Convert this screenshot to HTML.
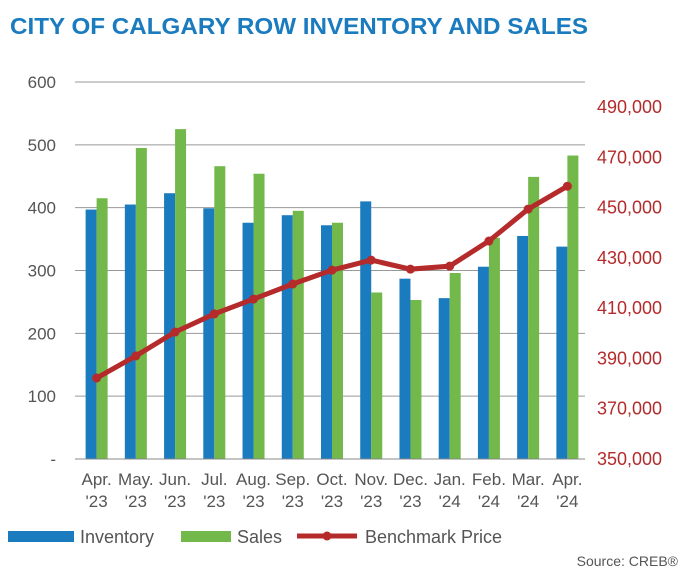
<!DOCTYPE html>
<html><head><meta charset="utf-8"><style>
body{margin:0;background:#fff;font-family:"Liberation Sans",Arial,sans-serif}
#wrap{position:relative;width:688px;height:580px;overflow:hidden}
</style></head><body>
<div id="wrap">
<svg id="chart" width="688" height="580" xmlns="http://www.w3.org/2000/svg">
<text x="10" y="34" font-size="23.5" font-weight="bold" fill="#1a7bbf" textLength="578" lengthAdjust="spacingAndGlyphs">CITY OF CALGARY ROW INVENTORY AND SALES</text>
<g id="grid"></g><g id="bars"></g><g id="line"></g><g id="axes"></g>
<g>
<rect x="8" y="531" width="66" height="11" fill="#1a7bbf"/>
<text x="80" y="543" font-size="18" fill="#555">Inventory</text>
<rect x="181" y="531" width="50" height="11" fill="#72b84a"/>
<text x="237" y="543" font-size="18" fill="#555">Sales</text>
<line x1="297" y1="536" x2="357" y2="536" stroke="#b52b2b" stroke-width="5"/>
<circle cx="327" cy="536" r="4.5" fill="#b52b2b"/>
<text x="365" y="543" font-size="18" fill="#555">Benchmark Price</text>
</g>
<text x="678" y="566" font-size="14" fill="#555" text-anchor="end">Source: CREB®</text>
</svg></div>
<script>
const categories=[["Apr.","'23"],["May.","'23"],["Jun.","'23"],["Jul.","'23"],["Aug.","'23"],["Sep.","'23"],["Oct.","'23"],["Nov.","'23"],["Dec.","'23"],["Jan.","'24"],["Feb.","'24"],["Mar.","'24"],["Apr.","'24"]];
const inventory=[397,405,423,399,376,388,372,410,287,256,306,355,338];
const sales=[415,495,525,466,454,395,376,265,253,296,352,449,483];
const price=[382200,391000,400500,407700,413600,419600,425100,429100,425500,426700,436700,449400,458500];
const leftTicks=[0,100,200,300,400,500,600];
const leftTickLabels=["-","100","200","300","400","500","600"];
const rightTicks=[350000,370000,390000,410000,430000,450000,470000,490000];
const NS="http://www.w3.org/2000/svg";
const x0=75,x1=585,yTop=82,yBot=459;
const yL=v=>yBot-(v/600)*(yBot-yTop);
const yR=v=>yBot-(v-350000)/140000*(yBot-107);
const bw=(x1-x0)/categories.length;
const cx=i=>x0+bw*(i+0.5)+2;
function mk(tag,attrs,parent){const e=document.createElementNS(NS,tag);for(const k in attrs)e.setAttribute(k,attrs[k]);document.getElementById(parent).appendChild(e);return e;}
leftTicks.forEach((t,i)=>{
 if(t>0){const g=mk('line',{x1:x0,x2:x1,y1:yL(t),y2:yL(t),stroke:'#999','stroke-width':1},'grid');
 
 }
 const l=mk('text',{x:56,y:yL(t)+6,'font-size':17,fill:'#555','text-anchor':'end'},'axes');l.textContent=leftTickLabels[i];
 
 
});
const ax=mk('line',{x1:x0,x2:x1,y1:yBot,y2:yBot,stroke:'#888','stroke-width':1},'axes');


rightTicks.forEach(t=>{
 const l=mk('text',{x:597,y:yR(t)+6,'font-size':18,fill:'#b52b2b'},'axes');l.textContent=t.toLocaleString('en-US');
 
 
});
categories.forEach((c,i)=>{
 const b=mk('rect',{x:cx(i)-11,y:yL(inventory[i]),width:11,height:yBot-yL(inventory[i]),fill:'#1a7bbf'},'bars');
 
 
 const s=mk('rect',{x:cx(i),y:yL(sales[i]),width:11,height:yBot-yL(sales[i]),fill:'#72b84a'},'bars');
 
 
 const t=mk('text',{x:cx(i),'font-size':17,fill:'#555','text-anchor':'middle'},'axes');
 
 
 c.forEach((p,j)=>{const ts=document.createElementNS(NS,'tspan');ts.setAttribute('x',cx(i));ts.setAttribute('y',485+j*22);ts.textContent=p;t.appendChild(ts);});
});
const pl=mk('polyline',{points:price.map((p,i)=>cx(i)+','+yR(p)).join(' '),fill:'none',stroke:'#b52b2b','stroke-width':5},'line');


price.forEach((p,i)=>{const c=mk('circle',{cx:cx(i),cy:yR(p),r:4.5,fill:'#b52b2b'},'line');
 
 });
</script>
</body></html>
